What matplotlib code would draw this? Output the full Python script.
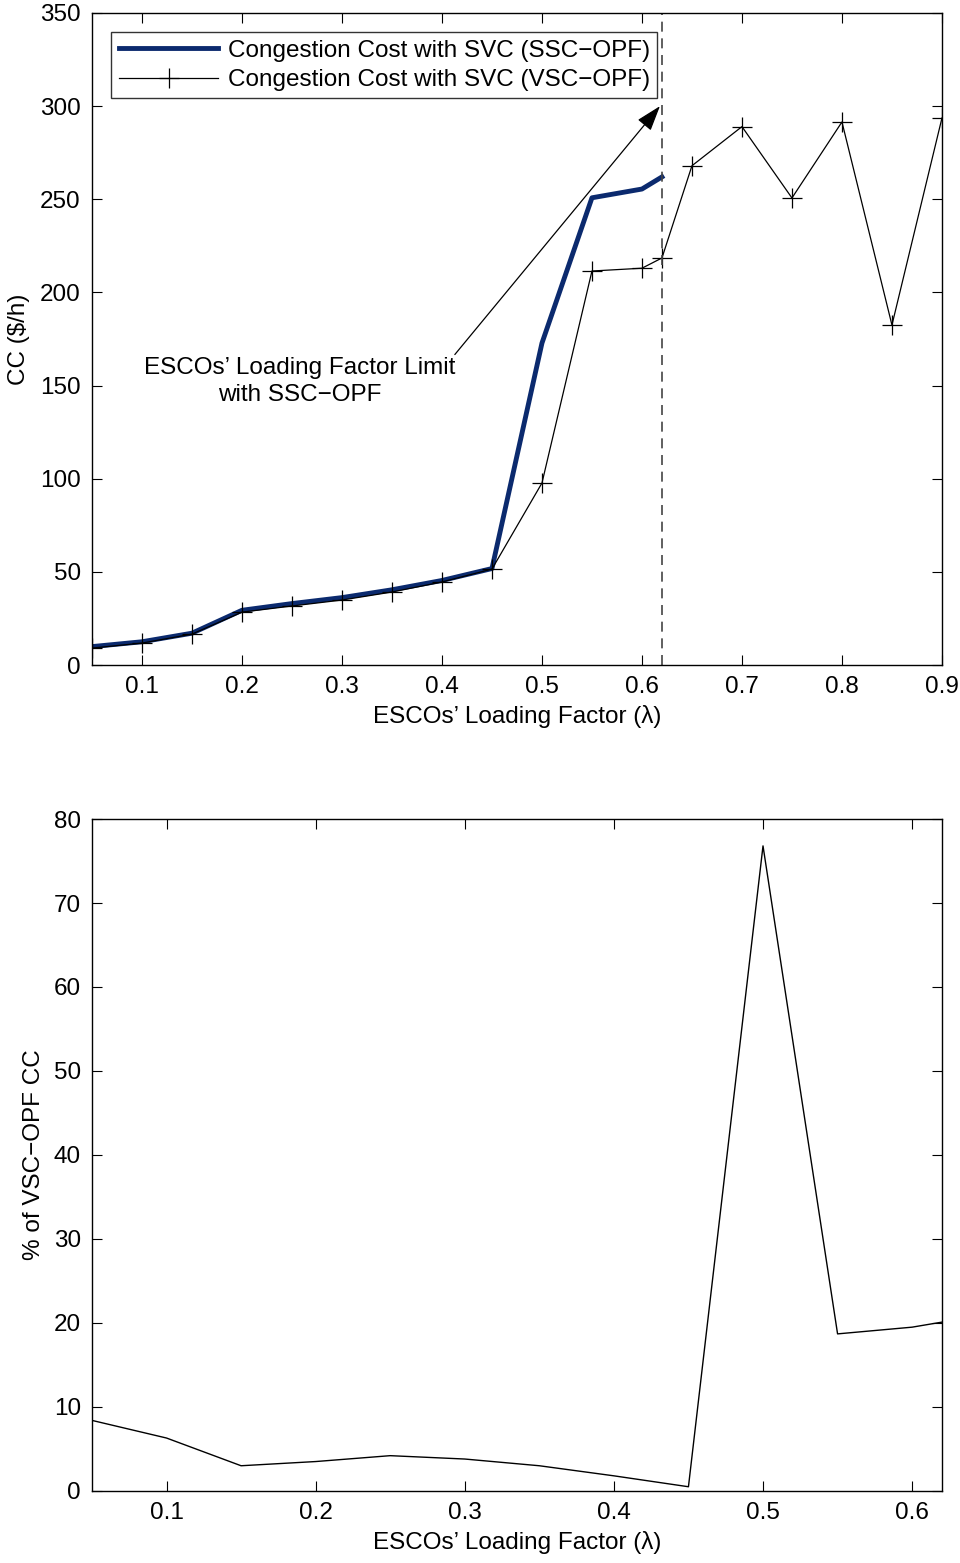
import numpy as np
import matplotlib
matplotlib.use("Agg")
import matplotlib.pyplot as plt

plt.rcParams['font.family'] = ['Liberation Sans', 'DejaVu Sans']

# loading factor values
lam_vsc = [0.05, 0.1, 0.15, 0.2, 0.25, 0.3, 0.35, 0.4, 0.45, 0.5, 0.55, 0.6, 0.62,
           0.65, 0.7, 0.75, 0.8, 0.85, 0.9]
cc_vsc = [9.1, 11.8, 16.6, 28.4, 31.7, 34.9, 39.2, 44.6, 51.5, 97.7, 211.5, 213.0, 218.5,
          268.0, 289.0, 250.7, 291.5, 182.5, 293.6]

lam_ssc = [0.05, 0.1, 0.15, 0.2, 0.25, 0.3, 0.35, 0.4, 0.45, 0.5, 0.55, 0.6, 0.62]
cc_ssc = [9.9, 12.5, 17.1, 29.4, 33.0, 36.2, 40.4, 45.4, 51.8, 172.8, 250.8, 255.5, 262.0]

pct_diff = [8.4, 6.3, 3.0, 3.5, 4.2, 3.8, 3.0, 1.8, 0.5, 76.8, 18.7, 19.5, 20.1]

lam_limit = 0.62
fs = 17.5

fig = plt.figure(figsize=(9.6, 15.63), dpi=100)
ax1 = fig.add_axes([0.0958, 0.5745, 0.8854, 0.4172])
ax2 = fig.add_axes([0.0958, 0.0461, 0.8854, 0.4299])


def style(ax):
    ax.tick_params(direction='in', top=True, right=True, labelsize=fs, length=7,
                   width=0.8, pad=8)
    for s in ax.spines.values():
        s.set_linewidth(1.0)


xlab = "ESCOs\u2019 Loading Factor (\u03bb)"

# top panel
ax1.plot(lam_ssc, cc_ssc, color='#0b2a6e', linewidth=3.5,
         label='Congestion Cost with SVC (SSC\u2212OPF)')
ax1.plot(lam_vsc, cc_vsc, color='black', linewidth=0.9, marker='+', markersize=14,
         markeredgewidth=0.9, label='Congestion Cost with SVC (VSC\u2212OPF)')
ax1.axvline(lam_limit, color='#444444', linestyle=(0, (6, 4)), linewidth=1.2)
ax1.annotate("ESCOs\u2019 Loading Factor Limit\nwith SSC\u2212OPF",
             xy=(0.618, 300), xytext=(0.258, 152), ha='center', va='center',
             fontsize=fs, linespacing=1.3,
             arrowprops=dict(arrowstyle='-|>,head_length=0.9,head_width=0.3',
                             color='black', lw=0.9, shrinkA=0, shrinkB=0,
                             relpos=(0.99, 1.0)))
ax1.set_xlim(0.05, 0.9)
ax1.set_ylim(0, 350)
ax1.set_xticks(np.arange(0.1, 0.95, 0.1))
ax1.set_xticklabels(['0.1', '0.2', '0.3', '0.4', '0.5', '0.6', '0.7', '0.8', '0.9'])
ax1.set_yticks(np.arange(0, 351, 50))
ax1.set_xlabel(xlab, fontsize=fs, labelpad=5)
ax1.set_ylabel("CC ($/h)", fontsize=fs, labelpad=7)
leg = ax1.legend(loc='upper left', fontsize=fs, frameon=True, fancybox=False,
                 edgecolor='black', borderpad=0.3, labelspacing=0.3,
                 handlelength=4.1, handletextpad=0.4, borderaxespad=0.8)
leg.get_frame().set_linewidth(1.0)
style(ax1)

# bottom panel
ax2.plot(lam_ssc, pct_diff, color='black', linewidth=1.0)
ax2.set_xlim(0.05, 0.62)
ax2.set_ylim(0, 80)
ax2.set_xticks([0.1, 0.2, 0.3, 0.4, 0.5, 0.6])
ax2.set_xticklabels(['0.1', '0.2', '0.3', '0.4', '0.5', '0.6'])
ax2.set_yticks(np.arange(0, 81, 10))
ax2.set_xlabel(xlab, fontsize=fs, labelpad=5)
ax2.set_ylabel("% of VSC\u2212OPF CC", fontsize=fs, labelpad=6)
style(ax2)

fig.savefig("out.png", dpi=100)
